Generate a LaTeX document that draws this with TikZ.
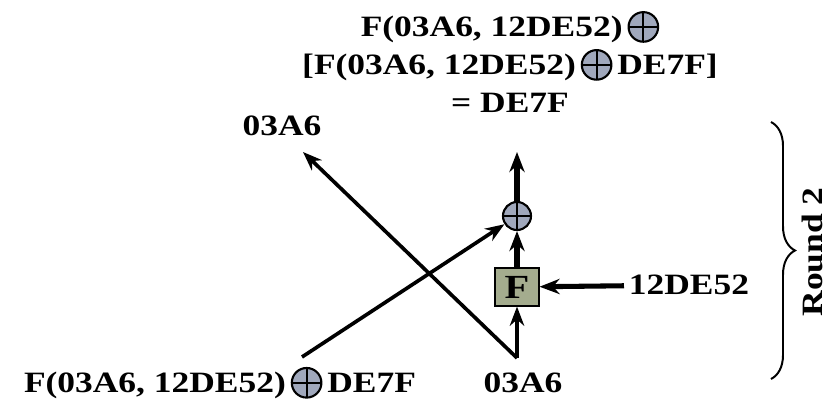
\documentclass[tikz,border=0pt]{standalone}
\usepackage{fontspec}
\setmainfont[FakeStretch=1.2]{Liberation Serif}
\usetikzlibrary{arrows.meta,decorations.pathreplacing}

\definecolor{xorgray}{RGB}{160,168,188}
\definecolor{fgreen}{RGB}{164,172,142}

\tikzset{
  xorc/.style={circle,draw,line width=1.5pt,fill=xorgray,minimum size=0.7cm,inner sep=0pt,
    path picture={\draw[line width=1.5pt]
      (path picture bounding box.north) -- (path picture bounding box.south)
      (path picture bounding box.west) -- (path picture bounding box.east);}}
}
\newcommand{\xo}{\tikz[baseline={(0,-0.25cm)}]\node[xorc,minimum size=0.74cm]{};}

\begin{document}
\begin{tikzpicture}[
  x=0.025cm, y=-0.025cm,
  lbl/.style={font=\fontsize{21}{27}\selectfont\bfseries},
  fbox/.style={draw,line width=0.8pt,fill=fgreen,minimum width=1.1cm,minimum height=0.95cm,
    inner sep=0pt,font=\fontsize{24}{27}\selectfont\bfseries},
  arr/.style={-{Stealth[length=0.48cm,width=0.36cm]},line width=2.6pt},
  thickarr/.style={-{Stealth[length=0.5cm,width=0.38cm]},line width=3.6pt}
]
\useasboundingbox (0,0) rectangle (828,400);

% ---- Round 2 core ----
\node[xorc] (xor) at (517,216) {};
\node[fbox] (F) at (517,287) {F};
\coordinate (bot) at (517,358);
\coordinate (topout) at (517,152);

\draw[thickarr] (F) -- (xor);
\draw[thickarr] (xor) -- (topout);
\draw[arr] (bot) -- (F);

% ---- Key input ----
\node[lbl] (key) at (689,285) {12DE52};
\draw[thickarr] (key) -- (F);

% ---- Crossing lines ----
\coordinate (ltip) at (303,152);
\coordinate (lstart) at (302,357);
\draw[arr] (bot) -- (ltip);
\draw[arr] (lstart) -- (xor);

% ---- Labels ----
\node[lbl] (inL) at (220,383) {F(03A6, 12DE52)\,\xo\,DE7F};
\node[lbl] (inR) at (523,383) {03A6};
\node[lbl] (outL) at (282,126) {03A6};
\node[lbl,align=center] (outR) at (510,62)
  {F(03A6, 12DE52)\,\xo\\{}[F(03A6, 12DE52)\,\xo\,DE7F]\\= DE7F};

% Brace
\draw[line width=1.4pt,decorate,decoration={brace,amplitude=0.6cm}]
  (771,122) -- (771,379);
\node[lbl,rotate=90] (round) at (812,252) {Round 2};
\end{tikzpicture}
\end{document}
